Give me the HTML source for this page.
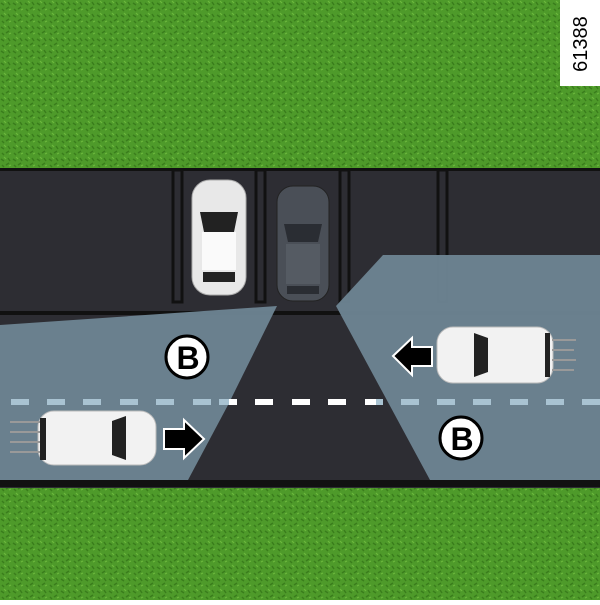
<!DOCTYPE html><html><head><style>body{margin:0;width:600px;height:600px;overflow:hidden}</style></head><body>
<svg width="600" height="600" xmlns="http://www.w3.org/2000/svg">
<defs><pattern id="g" width="12" height="12" patternUnits="userSpaceOnUse"><rect width="12" height="12" fill="#4e9a2a"/><path d="M1 3l3 2M6 9l3-2M8 2l2 3M2 9l2 2" stroke="#3a7d1c" stroke-width="1.5"/><path d="M4 1l2 2M9 10l2-1" stroke="#6cb83c" stroke-width="1.2"/></pattern></defs>
<rect width="600" height="600" fill="url(#g)"/>
<rect x="0" y="168" width="600" height="320" fill="#2d2d33"/>
<rect x="0" y="168" width="600" height="3" fill="#111"/>
<rect x="0" y="480" width="600" height="7" fill="#111"/>
<g fill="none" stroke="#111" stroke-width="3">
<rect x="173" y="170" width="9" height="132"/><rect x="256" y="170" width="9" height="132"/><rect x="340" y="170" width="9" height="132"/><rect x="438" y="170" width="9" height="132"/></g>
<rect x="0" y="311" width="600" height="4" fill="#111"/>
<!-- parked white car -->
<rect x="192" y="180" width="54" height="115" rx="18" fill="#e8e8e8" stroke="#aaa"/>
<path d="M200 212h38l-4 20h-30z" fill="#222"/><rect x="202" y="232" width="34" height="38" fill="#fafafa"/><rect x="203" y="272" width="32" height="10" fill="#222"/>
<!-- dark car -->
<rect x="277" y="186" width="52" height="115" rx="16" fill="#4a4f57" stroke="#222"/>
<path d="M284 224h38l-4 18h-30z" fill="#2a2d33"/><rect x="286" y="244" width="34" height="40" fill="#555b63"/><rect x="287" y="286" width="32" height="8" fill="#2a2d33"/>
<polygon points="0,325 277,306 228,405 188,480 0,480" fill="#6c8392" opacity="0.97"/>
<polygon points="383,255 600,255 600,480 430,480 336,306" fill="#6c8392" opacity="0.97"/>
<g>
<rect x="11" y="399" width="18" height="6" fill="#a9c3d2"/><rect x="47" y="399" width="18" height="6" fill="#a9c3d2"/><rect x="83" y="399" width="18" height="6" fill="#a9c3d2"/><rect x="120" y="399" width="18" height="6" fill="#a9c3d2"/><rect x="156" y="399" width="18" height="6" fill="#a9c3d2"/><rect x="193" y="399" width="18" height="6" fill="#a9c3d2"/><rect x="219" y="399" width="10" height="6" fill="#a9c3d2"/><rect x="229" y="399" width="8" height="6" fill="#fff"/><rect x="255" y="399" width="18" height="6" fill="#fff"/><rect x="292" y="399" width="18" height="6" fill="#fff"/><rect x="328" y="399" width="18" height="6" fill="#fff"/><rect x="365" y="399" width="11" height="6" fill="#fff"/><rect x="376" y="399" width="7" height="6" fill="#a9c3d2"/><rect x="401" y="399" width="18" height="6" fill="#a9c3d2"/><rect x="437" y="399" width="18" height="6" fill="#a9c3d2"/><rect x="473" y="399" width="18" height="6" fill="#a9c3d2"/><rect x="510" y="399" width="18" height="6" fill="#a9c3d2"/><rect x="546" y="399" width="18" height="6" fill="#a9c3d2"/><rect x="582" y="399" width="18" height="6" fill="#a9c3d2"/></g>
<!-- right car going left -->
<rect x="437" y="327" width="116" height="56" rx="16" fill="#f2f2f2" stroke="#bbb"/>
<path d="M474 333l14 5v34l-14 5z" fill="#222"/><rect x="545" y="333" width="5" height="44" fill="#222"/>
<g stroke="#999" stroke-width="2"><path d="M552 340h24M552 350h22M552 360h24M552 370h22"/></g>
<!-- left car going right -->
<rect x="38" y="411" width="118" height="54" rx="16" fill="#f2f2f2" stroke="#bbb"/>
<path d="M126 416l-14 5v34l14 5z" fill="#222"/><rect x="40" y="418" width="6" height="42" fill="#222"/>
<g stroke="#999" stroke-width="2"><path d="M10 422h30M10 432h30M10 442h30M10 452h30"/></g>
<polygon points="393,356 412,338 412,347 432,347 432,366 412,366 412,375" fill="#000" stroke="#fff" stroke-width="2"/>
<polygon points="204,439 184,420 184,429 164,429 164,449 184,449 184,458" fill="#000" stroke="#fff" stroke-width="2"/>
<circle cx="187" cy="357" r="21" fill="#fff" stroke="#000" stroke-width="3"/>
<text x="188" y="369" font-family="Liberation Sans" font-weight="bold" font-size="32" text-anchor="middle">B</text>
<circle cx="461" cy="438" r="21" fill="#fff" stroke="#000" stroke-width="3"/>
<text x="462" y="450" font-family="Liberation Sans" font-weight="bold" font-size="32" text-anchor="middle">B</text>
<rect x="560" y="0" width="40" height="86" fill="#fff"/>
<text transform="translate(587,44) rotate(-90)" font-family="Liberation Sans" font-size="20" text-anchor="middle">61388</text>
</svg></body></html>
